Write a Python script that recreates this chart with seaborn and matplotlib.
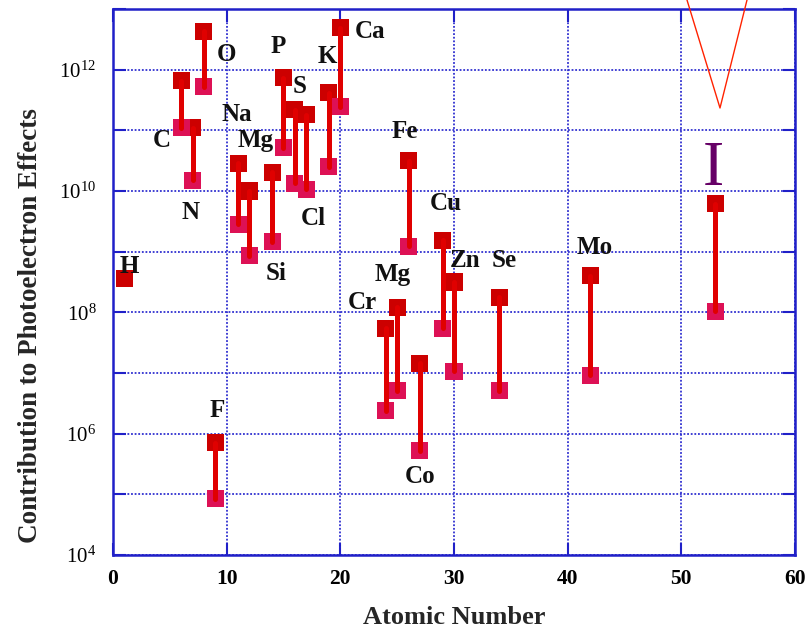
import numpy as np
import pandas as pd
import matplotlib
matplotlib.use("Agg")
import matplotlib.pyplot as plt
import matplotlib.ticker as mticker
from matplotlib.lines import Line2D
import seaborn as sns

# ---- data ----
elements = ["C", "N", "O", "F", "Na", "Mg", "Si", "P", "S", "Cl", "K", "Ca",
            "Cr", "Mg25", "Fe", "Co", "Cu", "Zn", "Se", "Mo", "I"]
atomic_number = [6, 7, 8, 9, 11, 12, 14, 15, 16, 17, 19, 20,
                 24, 25, 26, 27, 29, 30, 34, 42, 53]
upper_log = [11.82, 11.04, 12.63, 5.85, 10.46, 10.00, 10.31, 11.87, 11.34, 11.26, 11.62, 12.69,
             7.74, 8.08, 10.50, 7.16, 9.19, 8.50, 8.25, 8.60, 9.79]
lower_log = [11.04, 10.18, 11.72, 4.93, 9.45, 8.93, 9.16, 10.71, 10.13, 10.03, 10.40, 11.39,
             6.38, 6.71, 9.09, 5.72, 7.74, 7.03, 6.71, 6.96, 8.02]
single_element = "H"
single_z = [1]
single_log = [8.56]

label_text = ["H", "C", "N", "O", "F", "Na", "Mg", "Si", "P", "S", "Cl", "K", "Ca",
              "Fe", "Cu", "Mg", "Cr", "Zn", "Se", "Co", "Mo"]
label_x = [1.4, 4.32, 6.78, 9.96, 9.16, 10.93, 12.51, 14.36, 14.54, 16.39, 17.62, 18.85, 22.64,
           25.64, 29.25, 24.58, 21.94, 31.01, 34.45, 27.05, 42.38]
label_logy = [8.76, 10.84, 9.65, 12.25, 6.38, 11.26, 10.84, 8.64, 12.38, 11.72, 9.55, 12.21, 12.63,
              10.98, 9.80, 8.63, 8.17, 8.86, 8.86, 5.29, 9.07]

x_ticks = [0, 10, 20, 30, 40, 50, 60]
y_decades = list(range(4, 14))

# ---- long-form frames ----
up = pd.DataFrame({"element": elements, "Z": atomic_number,
                   "value": 10.0 ** np.array(upper_log), "level": "upper"})
lo = pd.DataFrame({"element": elements, "Z": atomic_number,
                   "value": 10.0 ** np.array(lower_log), "level": "lower"})
h = pd.DataFrame({"element": [single_element], "Z": single_z,
                  "value": 10.0 ** np.array(single_log), "level": "upper"})
pairs = pd.concat([up, lo], ignore_index=True)
points = pd.concat([pairs, h], ignore_index=True)

sns.set_theme(style="white")
plt.rcParams["font.family"] = ["Liberation Serif", "DejaVu Serif"]
plt.rcParams["mathtext.fontset"] = "custom"
plt.rcParams["mathtext.rm"] = "Liberation Serif:bold"
plt.rcParams["mathtext.it"] = "Liberation Serif:bold"
plt.rcParams["mathtext.bf"] = "Liberation Serif:bold"

BLUE = "#2020c8"
fig = plt.figure(figsize=(8.06, 6.30), dpi=100)
ax = fig.add_axes([113 / 806, 1 - 555 / 630, (795 - 113) / 806, (555 - 9) / 630])

ax.set_yscale("log")
ax.set_xlim(0, 60)
ax.set_ylim(1e4, 1e13)

sns.scatterplot(data=points, x="Z", y="value", hue="level",
                palette={"upper": "#cc0000", "lower": "#dd1155"},
                marker="s", s=150, linewidth=0, legend=False, ax=ax, zorder=3)
sns.lineplot(data=pairs, x="Z", y="value", units="element", estimator=None,
             sort=False, color="#e00000", linewidth=3.6, legend=False, ax=ax, zorder=4)

# grid and axes styling
ax.xaxis.set_major_locator(mticker.FixedLocator(x_ticks))
ax.yaxis.set_major_locator(mticker.FixedLocator([10.0 ** d for d in y_decades]))
ax.yaxis.set_minor_locator(mticker.NullLocator())
ax.xaxis.set_minor_locator(mticker.NullLocator())
ax.yaxis.set_major_formatter(mticker.FuncFormatter(
    lambda v, p: (r"$\mathdefault{10^{%d}}$" % round(np.log10(v))) if round(np.log10(v)) % 2 == 0 else ""))
ax.xaxis.set_major_formatter(mticker.FuncFormatter(lambda v, p: "%d" % v))
ax.grid(True, which="major", color="#3030d0", linestyle=(0, (1, 1)), linewidth=1.3)
ax.set_axisbelow(True)
for s in ax.spines.values():
    s.set_color(BLUE)
    s.set_linewidth(1.8)
    s.set_visible(True)
ax.tick_params(axis="both", which="major", direction="in", length=9, width=1.5,
               color=BLUE, labelcolor="black",
               top=True, right=True, bottom=True, left=True)
ax.tick_params(axis="x", pad=10, labelsize=15.5)
ax.tick_params(axis="y", pad=12, labelsize=15)
for t in ax.get_xticklabels():
    t.set_fontweight("bold")

ax.set_xlabel("Atomic Number", fontsize=19, fontweight="bold", labelpad=12)
ax.set_ylabel("Contribution to Photoelectron Effects", fontsize=19.5, fontweight="bold")
ax.yaxis.set_label_coords(-0.103, 0.42)

# element labels
for t, x, ly in zip(label_text, label_x, label_logy):
    ax.text(x, 10.0 ** ly, t, ha="center", va="center", fontsize=18,
            fontweight="bold", color="#111111", zorder=5)

# iodine label
ax.text(52.86, 10.0 ** 10.34, "I", ha="center", va="center", fontsize=46,
        color="#660066", zorder=5)

# callout triangle (extends above the plot)
tri_x = [687 / 806, 720 / 806, 747 / 806]
tri_y = [1.0, 1 - 108 / 630, 1.0]
fig.add_artist(Line2D(tri_x, tri_y, transform=fig.transFigure, color="#ff2200", linewidth=1.0))

fig.savefig("out.png", dpi=100)
